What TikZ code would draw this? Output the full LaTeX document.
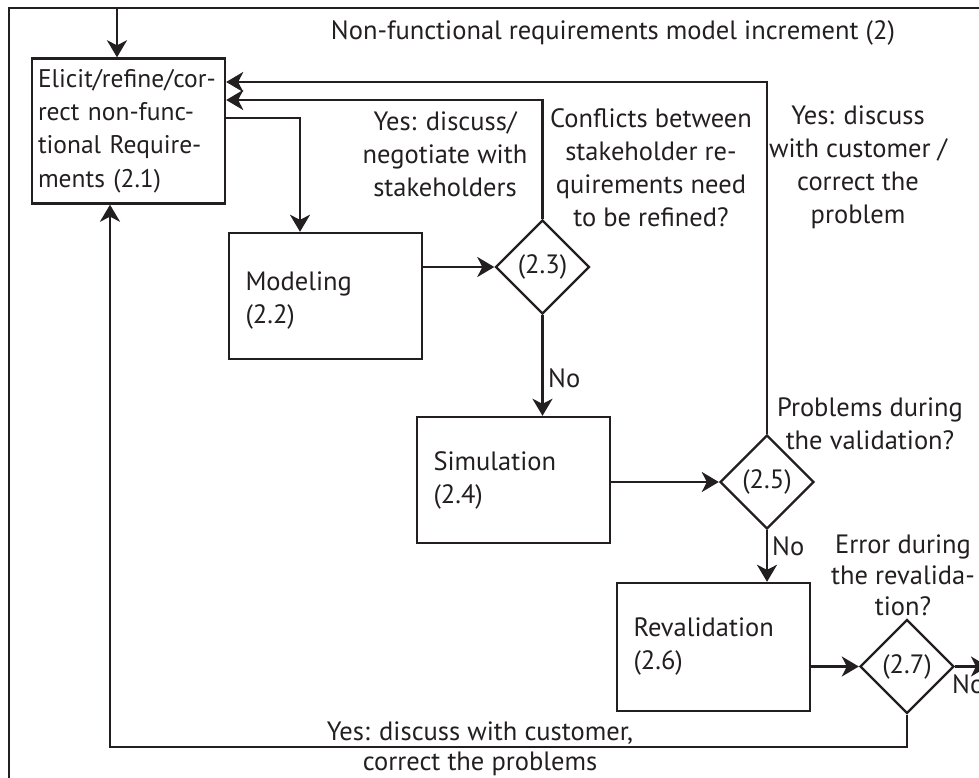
\documentclass[tikz,border=0pt]{standalone}
\usepackage{fontspec}
\setmainfont{PT Sans}
\usetikzlibrary{shapes.geometric,arrows.meta,calc}
\definecolor{ink}{HTML}{231F20}
\begin{document}
\begin{tikzpicture}[x=1pt,y=-1pt,
  every node/.style={font=\fontsize{26.5}{33}\selectfont, text=ink},
  line/.style={draw=ink, line width=2.4pt},
  arr/.style={line, -{Stealth[length=17pt,width=20pt,inset=5pt]}},
  proc/.style={line, rectangle, minimum width=193pt, minimum height=126pt,
    align=left, inner xsep=0pt, inner ysep=0pt, text width=160pt},
  dec/.style={line, diamond, minimum width=94pt, minimum height=94pt,
    inner sep=0pt, aspect=1},
  lab/.style={align=center, inner sep=0pt},
  nolab/.style={anchor=base west, inner sep=0pt},
]
\useasboundingbox (0,0) rectangle (979,778);
\clip (0,0) rectangle (979,778);

% outer frame (open to the right and bottom)
\coordinate (fbl) at (9,800);
\coordinate (fc) at (9,8);
\coordinate (ftr) at (1000,8);
\coordinate (fin) at (117,8);
\draw[line] (fbl) -- (fc) -- (ftr);

% process steps
\node[proc, minimum height=145pt, text width=181pt,
  font=\fontsize{25.5}{33.3}\selectfont] (b1) at (128.5,131)
  {Elicit/refine/cor-\\rect non-func-\\tional Require-\\ments (2.1)};
\node[proc] (b2) at (325.5,296) {\rule{0pt}{27pt}Modeling\\(2.2)};
\node[proc] (b3) at (513.5,480) {Simulation\\(2.4)};
\node[proc, minimum height=128pt] (b4) at (713.5,647) {Revalidation\\(2.6)};

% decisions
\node[dec] (d23) at (542.5,267) {(2.3)};
\node[dec] (d25) at (767,482) {(2.5)};
\node[dec] (d27) at (907,666.5) {(2.7)};

% exits and routing points
\coordinate (out) at (988,666.5);
\coordinate (yb) at (0,747);

% connectors
\draw[arr] (fin) -- (fin |- b1.north);
\draw[arr] ([yshift=13pt]b1.east) -| ([xshift=-25.5pt]b2.north);
\draw[arr] (b2.east |- d23.west) -- (d23.west);
\draw[arr] (d23.north) |- ([yshift=31pt]b1.east);
\draw[arr] (d23.south) -- (d23.south |- b3.north);
\draw[arr] (b3.east |- d25.west) -- (d25.west);
\draw[arr] (d25.north) |- ([yshift=49pt]b1.east);
\draw[arr] (d25.south) -- (d25.south |- b4.north);
\draw[arr] (b4.east |- d27.west) -- (d27.west);
\draw[arr] (d27.east) -- (out);
\draw[arr] (d27.south) |- ([xshift=-18.5pt]b1.south |- yb) -- ([xshift=-18.5pt]b1.south);

% labels
\node[lab, anchor=base] (tl) at (613,40) {Non-functional requirements model increment (2)};
\node[lab] (yes1) at (445,154) {Yes: discuss/\\negotiate with\\stakeholders};
\node[lab] (conf) at (651,167.5) {Conflicts between\\stakeholder re-\\quirements need\\to be refined?};
\node[lab] (yes2) at (858,167.5) {Yes: discuss\\with customer /\\correct the\\problem};
\node[lab] (prob) at (870,424) {Problems during\\the validation?};
\node[lab, font=\fontsize{26.5}{31}\selectfont] (err) at (903,575.5) {Error during\\the revalida-\\tion?};
\node[lab, font=\fontsize{26.5}{30}\selectfont] (yes3) at (480,748.5) {Yes: discuss with customer,\\correct the problems};
\node[nolab] (no1) at (548,387) {No};
\node[nolab] (no2) at (772,555) {No};
\node[nolab] (no3) at (952,693) {No};
\end{tikzpicture}
\end{document}
